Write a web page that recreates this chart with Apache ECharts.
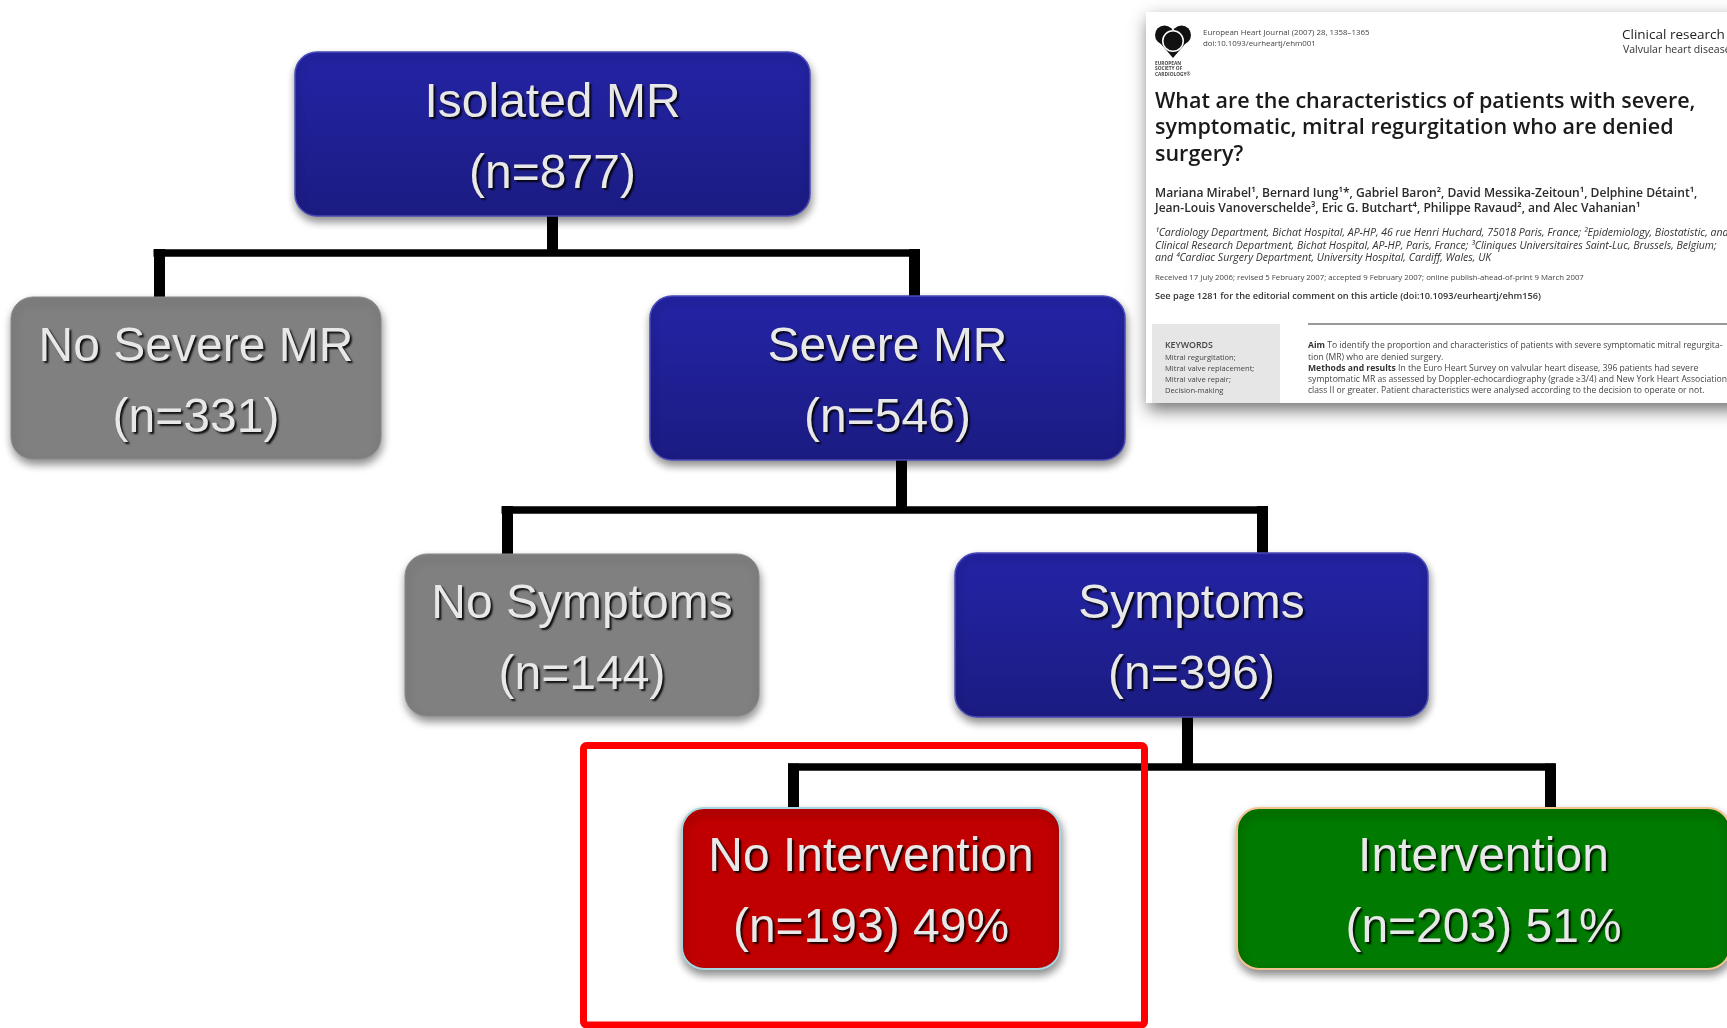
<!DOCTYPE html>
<html><head><meta charset="utf-8">
<script src="https://cdn.jsdelivr.net/npm/echarts@6/dist/echarts.min.js"></script>
<style>html,body{margin:0;padding:0;background:#fff}#c{width:1727px;height:1028px}</style>
</head><body><div id="c"></div>
<script>
// ---- data ----
const nodeLabels = ['Isolated MR', 'No Severe MR', 'Severe MR', 'No Symptoms', 'Symptoms', 'No Intervention', 'Intervention'];
const nodeCounts = [877, 331, 546, 144, 396, 193, 203];
const nodePercents = [null, null, null, null, null, 49, 51];
const nodeParents = [-1, 0, 0, 2, 2, 4, 4];
const nodeKinds = ['blue', 'gray', 'blue', 'gray', 'blue', 'red', 'green'];
const highlightedNode = 5;

// ---- layout (pixel-like data units) ----
const nodeLeft = [295, 11, 650, 405, 955, 682, 1237];
const nodeTop = [52, 297, 296, 554, 553, 808, 808];
const nodeWidth = [515, 370, 475, 354, 473, 378, 493];
const nodeHeight = [164, 162, 164, 162, 164, 161, 161];
const stubX = {0: 552, 2: 901, 4: 1187};      // parent stub positions
const busY = {0: 252.5, 2: 509.5, 4: 767};     // bus line heights
const dropX = [null, 159, 914, 507, 1262, 793.5, 1550]; // child drop positions
const highlightPad = [98.5, 62.5, 84.5, 56];   // left, top, right, bottom
const textShiftY = 5;

const styles = {
  blue: {fill: {type:'linear',x:0,y:0,x2:0,y2:1,colorStops:[{offset:0,color:'#2424a6'},{offset:1,color:'#1b1b82'}]}, stroke:'#4a4ab8', lw:1.5},
  gray: {fill:'#808080', stroke:'#8a8a8a', lw:1},
  red: {fill:'#c00000', stroke:'#a6d6e2', lw:2},
  green: {fill:'#007a00', stroke:'#f3c290', lw:2}
};

// connectors
const segs = [];
nodeParents.forEach((p, i) => {
  if (p < 0) return;
  segs.push({coords: [[dropX[i], busY[p] - 3.5], [dropX[i], nodeTop[i] + 2]], lineStyle: {width: 11}});
});
Object.keys(stubX).forEach(k => {
  const p = +k;
  const kids = nodeParents.map((q, i) => q === p ? i : -1).filter(i => i >= 0);
  const xs = kids.map(i => dropX[i]);
  segs.push({coords: [[stubX[p], nodeTop[p] + nodeHeight[p] - 2], [stubX[p], busY[p]]], lineStyle: {width: 11}});
  segs.push({coords: [[Math.min(...xs) - 5.5, busY[p]], [Math.max(...xs) + 5.5, busY[p]]], lineStyle: {width: 7.5}});
});

const chart = echarts.init(document.getElementById('c'), null, {renderer: 'canvas'});

const PF = '"Open Sans","Noto Sans",sans-serif';
function t(x, y, text, size, opts) {
  opts = opts || {};
  return {type: 'text', x: x, y: y, silent: true, z: 20,
    style: Object.assign({text: text, fill: opts.fill || '#222', font: (opts.style || '') + ' ' + (opts.weight || 'normal') + ' ' + size + 'px ' + PF,
      textVerticalAlign: 'middle', verticalAlign: 'middle'}, opts.extra || {})};
}
const boldRich = (sz) => ({rich: {b: {fontWeight: 'bold', fontSize: sz, fontFamily: PF, fill: '#333'}}});

const paper = [
  {type:'rect', shape:{x:1146, y:12, width:620, height:391}, z:10, silent:true,
   style:{fill:'#fff', shadowBlur:16, shadowColor:'rgba(0,0,0,0.55)', shadowOffsetX:2, shadowOffsetY:7}},
  {type:'circle', z:20, silent:true, shape:{cx:1164.5, cy:35, r:9.5}, style:{fill:'#111'}},
  {type:'circle', z:20, silent:true, shape:{cx:1181.5, cy:35, r:9.5}, style:{fill:'#111'}},
  {type:'polygon', z:20, silent:true, shape:{points:[[1155.8,38],[1190.2,38],[1173,58]]}, style:{fill:'#111'}},
  {type:'ring', z:21, silent:true, shape:{cx:1173, cy:41, r:11, r0:9.5}, style:{fill:'#fff'}},
  t(1155, 64, 'EUROPEAN', 4.8, {weight:'bold', fill:'#444'}),
  t(1155, 69, 'SOCIETY OF', 4.8, {weight:'bold', fill:'#444'}),
  t(1155, 75, 'CARDIOLOGY®', 4.8, {weight:'bold', fill:'#444'}),
  t(1203, 33, 'European Heart Journal (2007) 28, 1358–1365', 7.9, {fill:'#444'}),
  t(1203, 44, 'doi:10.1093/eurheartj/ehm001', 7.9, {fill:'#444'}),
  t(1622, 35, 'Clinical research', 13.5, {fill:'#222'}),
  t(1623, 50, 'Valvular heart disease', 10.5, {fill:'#333'}),
  t(1155, 101.7, 'What are the characteristics of patients with severe,', 21.5, {weight:'600', fill:'#1a1a1a'}),
  t(1155, 128.2, 'symptomatic, mitral regurgitation who are denied', 21.5, {weight:'600', fill:'#1a1a1a'}),
  t(1155, 154.6, 'surgery?', 21.5, {weight:'600', fill:'#1a1a1a'}),
  t(1155, 193.5, 'Mariana Mirabel¹, Bernard Iung¹*, Gabriel Baron², David Messika-Zeitoun¹, Delphine Détaint¹,', 12.1, {weight:'600', fill:'#2a2a2a'}),
  t(1155, 208.5, 'Jean-Louis Vanoverschelde³, Eric G. Butchart⁴, Philippe Ravaud², and Alec Vahanian¹', 12.1, {weight:'600', fill:'#2a2a2a'}),
  t(1155, 233, '¹Cardiology Department, Bichat Hospital, AP-HP, 46 rue Henri Huchard, 75018 Paris, France; ²Epidemiology, Biostatistic, and', 10.5, {style:'italic', fill:'#333'}),
  t(1155, 246, 'Clinical Research Department, Bichat Hospital, AP-HP, Paris, France; ³Cliniques Universitaires Saint-Luc, Brussels, Belgium;', 10.5, {style:'italic', fill:'#333'}),
  t(1155, 258.5, 'and ⁴Cardiac Surgery Department, University Hospital, Cardiff, Wales, UK', 10.5, {style:'italic', fill:'#333'}),
  t(1155, 278, 'Received 17 July 2006; revised 5 February 2007; accepted 9 February 2007; online publish-ahead-of-print 9 March 2007', 7.8, {fill:'#444'}),
  t(1155, 296.5, 'See page 1281 for the editorial comment on this article (doi:10.1093/eurheartj/ehm156)', 9.2, {weight:'600', fill:'#333'}),
  {type:'line', z:20, silent:true, shape:{x1:1308, y1:324, x2:1740, y2:324}, style:{stroke:'#333', lineWidth:1.2}},
  {type:'rect', z:19, silent:true, shape:{x:1152, y:324, width:128, height:79}, style:{fill:'#e6e6e6'}},
  t(1165, 345, 'KEYWORDS', 8.8, {weight:'600', fill:'#444'}),
  t(1165, 358, 'Mitral regurgitation;', 7.6, {fill:'#444'}),
  t(1165, 369, 'Mitral valve replacement;', 7.6, {fill:'#444'}),
  t(1165, 380, 'Mitral valve repair;', 7.6, {fill:'#444'}),
  t(1165, 391, 'Decision-making', 7.6, {fill:'#444'}),
  t(1308, 346, '{b|Aim} To identify the proportion and characteristics of patients with severe symptomatic mitral regurgita-', 8.6, {fill:'#444', extra: boldRich(8.6)}),
  t(1308, 358, 'tion (MR) who are denied surgery.', 8.6, {fill:'#444'}),
  t(1308, 369, '{b|Methods and results} In the Euro Heart Survey on valvular heart disease, 396 patients had severe', 8.6, {fill:'#444', extra: boldRich(8.6)}),
  t(1308, 380, 'symptomatic MR as assessed by Doppler-echocardiography (grade ≥3/4) and New York Heart Association', 8.6, {fill:'#444'}),
  t(1308, 391, 'class II or greater. Patient characteristics were analysed according to the decision to operate or not.', 8.6, {fill:'#444'})
];

chart.setOption({
  animation: false,
  grid: {left: 0, right: 0, top: 0, bottom: 0},
  xAxis: {type: 'value', min: 0, max: 1727, show: false},
  yAxis: {type: 'value', min: 0, max: 1028, inverse: true, show: false},
  graphic: paper,
  series: [
    {
      type: 'lines', coordinateSystem: 'cartesian2d', silent: true, z: 2,
      lineStyle: {color: '#000', opacity: 1, cap: 'butt'},
      data: segs
    },
    {
      type: 'custom', coordinateSystem: 'cartesian2d', silent: true, z: 3,
      data: nodeLabels.map((_, i) => [i]),
      renderItem: function (params, api) {
        const i = api.value(0);
        const p0 = api.coord([nodeLeft[i], nodeTop[i]]);
        const s = api.size([nodeWidth[i], nodeHeight[i]]);
        const st = styles[nodeKinds[i]];
        let txt = nodeLabels[i] + '\n(n=' + nodeCounts[i] + ')';
        if (nodePercents[i] != null) txt += ' ' + nodePercents[i] + '%';
        return {
          type: 'group',
          children: [
            {type: 'rect', shape: {x: p0[0], y: p0[1], width: s[0], height: s[1], r: 22},
             style: {fill: st.fill, stroke: st.stroke, lineWidth: st.lw,
               shadowBlur: 8, shadowColor: 'rgba(0,0,0,0.45)', shadowOffsetX: 1, shadowOffsetY: 5}},
            {type: 'text', x: p0[0] + s[0] / 2, y: p0[1] + s[1] / 2 + textShiftY,
             style: {text: txt, fill: '#e8e8e8', font: '48px "Liberation Sans", Arial, sans-serif',
               align: 'center', verticalAlign: 'middle', textAlign: 'center', textVerticalAlign: 'middle',
               lineHeight: 71, textShadowColor: 'rgba(0,0,0,0.9)', textShadowBlur: 2,
               textShadowOffsetX: 2, textShadowOffsetY: 2}}
          ]
        };
      }
    },
    {
      type: 'custom', coordinateSystem: 'cartesian2d', silent: true, z: 4,
      data: [[highlightedNode]],
      renderItem: function (params, api) {
        const i = api.value(0);
        const a = api.coord([nodeLeft[i] - highlightPad[0], nodeTop[i] - highlightPad[1]]);
        const b = api.coord([nodeLeft[i] + nodeWidth[i] + highlightPad[2], nodeTop[i] + nodeHeight[i] + highlightPad[3]]);
        return {type: 'rect', shape: {x: a[0], y: a[1], width: b[0] - a[0], height: b[1] - a[1], r: 3},
          style: {fill: 'none', stroke: '#ff0000', lineWidth: 7}};
      }
    }
  ]
});
</script></body></html>
